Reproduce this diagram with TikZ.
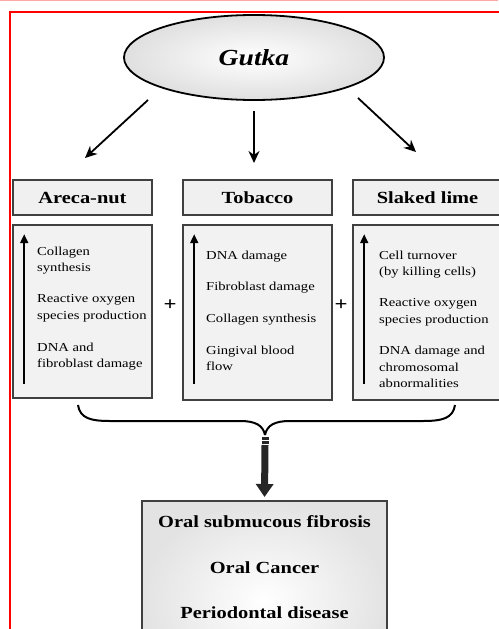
\documentclass[tikz,border=0pt]{standalone}
\usepackage{fontspec}
\setmainfont{Liberation Serif}[FakeStretch=1.2]
\usetikzlibrary{arrows.meta,shapes.geometric}

\tikzset{
  headbox/.style={draw=black!75, line width=1.6pt, fill=gray!12, minimum height=35pt, inner sep=0pt, font=\fontsize{17}{20}\selectfont\bfseries},
  effbox/.style={draw=black!75, line width=1.6pt, fill=gray!10, inner sep=0pt},
  item/.style={anchor=west, align=left, inner sep=0pt, font=\fontsize{12.2}{16.5}\selectfont},
  outline/.style={inner sep=0pt, font=\fontsize{17}{20}\selectfont\bfseries},
  uparrow/.style={line width=1.8pt, -{Triangle[length=9pt,width=8pt]}},
  feed/.style={line width=1.8pt, -{Stealth[length=12pt,width=11pt]}},
  plus/.style={inner sep=0pt, font=\fontsize{19}{19}\selectfont\bfseries},
}

\begin{document}
\begin{tikzpicture}[x=1pt,y=-1pt]
  \useasboundingbox (0,0) rectangle (498,629);

  % frame
  \draw [red!35, line width=1pt] (0,0.5) -- (498,0.5);
  \draw [red, line width=2pt] (9.5,700) -- (9.5,12) -- (520,12);

  % source
  \node [ellipse, draw=black, line width=1.8pt, minimum width=260pt, minimum height=85pt,
         inner color=white, outer color=gray!25] (gutka) at (254,57.5)
        {\fontsize{23}{26}\selectfont\bfseries\itshape Gutka};

  % ingredients
  \node [headbox, minimum width=139pt] (areca) at (82.5,197.5) {Areca-nut};
  \node [headbox, minimum width=149pt] (tobacco) at (257.5,197.5) {Tobacco};
  \node [headbox, minimum width=149pt] (lime) at (427.5,197.5) {Slaked lime};

  \coordinate (gl) at (148,100);
  \coordinate (al) at (85,158);
  \coordinate (gm) at (254,111);
  \coordinate (am) at (254,163);
  \coordinate (gr) at (358,98);
  \coordinate (ar) at (416,152);
  \draw [feed] (gl) -- (al);
  \draw [feed] (gm) -- (am);
  \draw [feed] (gr) -- (ar);

  % effects
  \node [effbox, minimum width=139pt, minimum height=173pt] (arecabox) at (82.5,311.5) {};
  \node [effbox, minimum width=149pt, minimum height=175pt] (tobaccobox) at (257.5,312.5) {};
  \node [effbox, minimum width=149pt, minimum height=175pt] (limebox) at (427.5,312.5) {};

  \draw [uparrow] ([xshift=12pt,yshift=15pt]arecabox.south west) -- ([xshift=12pt,yshift=-10pt]arecabox.north west);
  \draw [uparrow] ([xshift=12pt,yshift=17pt]tobaccobox.south west) -- ([xshift=12pt,yshift=-10pt]tobaccobox.north west);
  \draw [uparrow] ([xshift=12pt,yshift=17pt]limebox.south west) -- ([xshift=12pt,yshift=-10pt]limebox.north west);

  \node [item] (areca1) at (37,260.5) {Collagen\\synthesis};
  \node [item] (areca2) at (37,308.5) {Reactive oxygen\\species production};
  \node [item] (areca3) at (37,356.5) {DNA and\\fibroblast damage};

  \node [item] (tobacco1) at (206,257) {DNA damage};
  \node [item] (tobacco2) at (206,288) {Fibroblast damage};
  \node [item] (tobacco3) at (206,320) {Collagen synthesis};
  \node [item] (tobacco4) at (206,358.5) {Gingival blood\\flow};

  \node [item] (lime1) at (379,264.5) {Cell turnover\\(by killing cells)};
  \node [item] (lime2) at (379,312.5) {Reactive oxygen\\species production};
  \node [item] (lime3) at (379,367) {DNA damage and\\chromosomal\\abnormalities};

  \node [plus] (plus1) at (170,305) {+};
  \node [plus] (plus2) at (341,305) {+};

  % brace
  \coordinate (join) at (265,435);
  \draw [line width=2pt] (78,405) .. controls (80,418) and (90,421) .. (110,421) -- (240,421)
        .. controls (255,421) and (263,425) .. (join);
  \draw [line width=2pt] (455,405) .. controls (453,418) and (443,421) .. (423,421) -- (290,421)
        .. controls (275,421) and (267,425) .. (join);

  % outcome
  \node [draw=black!75, line width=1.6pt, minimum width=245pt, minimum height=200pt, anchor=north,
         inner color=white, outer color=gray!22] (outcome) at (264.5,500) {};

  \draw [line width=7pt, black!85] ([yshift=-2pt]join) -- ([yshift=-4.5pt]join);
  \draw [line width=7pt, black!85] ([yshift=-6pt]join) -- ([yshift=-8.5pt]join);
  \draw [line width=7pt, black!85, -{Triangle[length=13pt,width=17pt]}, shorten >=3pt]
        ([yshift=-10pt]join) -- (outcome.north);

  \node [outline] (osf) at (264.5,522) {Oral submucous fibrosis};
  \node [outline] (cancer) at (264.5,568) {Oral Cancer};
  \node [outline] (perio) at (264.5,613) {Periodontal disease};
\end{tikzpicture}
\end{document}
